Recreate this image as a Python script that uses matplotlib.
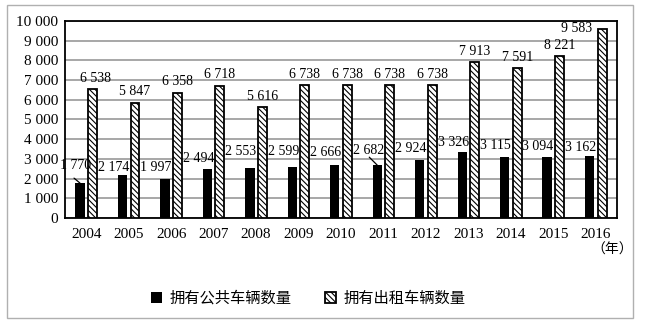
import numpy as np
import matplotlib.pyplot as plt
from matplotlib.patches import Rectangle

years = ['2004', '2005', '2006', '2007', '2008', '2009', '2010',
         '2011', '2012', '2013', '2014', '2015', '2016']
bus = [1770, 2174, 1997, 2494, 2553, 2599, 2666, 2682, 2924, 3326, 3115, 3094, 3162]
taxi = [6538, 5847, 6358, 6718, 5616, 6738, 6738, 6738, 6738, 7913, 7591, 8221, 9583]
names = ['拥有公共车辆数量', '拥有出租车辆数量']
yticks = list(range(0, 10001, 1000))

# label offsets (pixels) from bar tops
bus_dx = [-4] + [-9] * 12
bus_dy = [18, 8, 11, 10, 16, 15, 13, 15, 12, 10, 11, 11, 8]
taxi_dx = [3] + [0] * 11 + [-25]
taxi_dy = [11] * 12 + [1]

serif = 'Liberation Serif'
cjk = ['Noto Sans CJK SC', 'DejaVu Sans']
plt.rcParams['hatch.linewidth'] = 0.8

fig = plt.figure(figsize=(6.49, 3.32), dpi=100)
ax = fig.add_axes([65 / 649, 1 - 218 / 332, 552 / 649, 197 / 332])

x = np.arange(len(years))
b1 = ax.bar(x - 0.146, bus, width=0.22, color='black', zorder=3, label=names[0])
b2 = ax.bar(x + 0.148, taxi, width=0.21, color='white', edgecolor='black',
            linewidth=1.3, hatch='\\\\\\\\\\\\', zorder=3, label=names[1])

def fmt(v):
    return f'{v:,}'.replace(',', ' ')

for i in range(len(years)):
    ax.annotate(fmt(bus[i]), (x[i] - 0.146, bus[i]), xytext=(bus_dx[i], bus_dy[i]),
                textcoords='offset pixels', ha='center', va='center',
                fontfamily=serif, fontsize=10, zorder=5)
    ax.annotate(fmt(taxi[i]), (x[i] + 0.148, taxi[i]), xytext=(taxi_dx[i], taxi_dy[i]),
                textcoords='offset pixels', ha='center', va='center',
                fontfamily=serif, fontsize=10, zorder=5)

# leader lines for crowded labels
for i, off in [(0, (-6, 5)), (7, (-8, 8))]:
    ax.annotate('', (x[i] - 0.146, bus[i]), xytext=off, textcoords='offset pixels',
                arrowprops=dict(arrowstyle='-', color='black', lw=0.9,
                                shrinkA=0, shrinkB=0), zorder=4)

ax.set_xlim(-0.5, len(years) - 0.5)
ax.set_ylim(0, 10000)
ax.set_xticks(x)
ax.set_xticklabels(years, fontfamily=serif, fontsize=11)
ax.set_yticks(yticks)
ax.set_yticklabels([fmt(v) for v in yticks], fontfamily=serif, fontsize=11)
ax.tick_params(length=0)
ax.tick_params(axis='x', pad=7)
ax.tick_params(axis='y', pad=5)
ax.yaxis.grid(True, color='#a0a0a0', lw=1.3, zorder=0)
ax.set_axisbelow(True)
for s in ax.spines.values():
    s.set_color('black')
    s.set_linewidth(1.3)

fig.text(612 / 649, 1 - 250 / 332, '（年）', ha='center', va='center',
         fontfamily=cjk, fontsize=10)

fig.legend(handles=[b1, b2], loc='center', bbox_to_anchor=(308 / 649, 1 - 298 / 332),
           ncol=2, frameon=False, prop={'family': cjk, 'size': 11},
           handlelength=0.75, handleheight=0.75, handletextpad=0.45, columnspacing=2.2)

fig.patches.append(Rectangle((7 / 649, 1 - 318 / 332), 626 / 649, 313 / 332,
                             transform=fig.transFigure, fill=False,
                             edgecolor='#b0b0b0', lw=1))

fig.savefig('out.png', dpi=100)
